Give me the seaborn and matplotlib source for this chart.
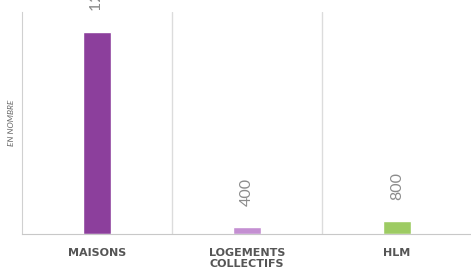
import matplotlib
matplotlib.use("Agg")
import matplotlib.pyplot as plt
import seaborn as sns
import pandas as pd

# donnees
categories = ["MAISONS", "LOGEMENTS\nCOLLECTIFS", "HLM"]
valeurs = [12000, 400, 800]
couleurs = ["#8C3F9C", "#C48FD2", "#9DCB63"]

df = pd.DataFrame({"type": categories, "nombre": valeurs})

sns.set_style("white")
plt.rcParams["font.family"] = ["Lato", "DejaVu Sans"]

fig = plt.figure(figsize=(4.71, 2.74), dpi=100)
ax = fig.add_axes([22 / 471, 40 / 274, 450 / 471, 222 / 274])

sns.barplot(data=df, x="type", y="nombre", hue="type", palette=couleurs,
            width=0.19, legend=False, ax=ax, saturation=1)

ax.set_xlim(-0.5, 2.5)
ax.set_ylim(0, 13190)

# separateurs verticaux
for xs in [0.5, 1.5, 2.5]:
    ax.axvline(xs, color="#dcdcdc", lw=1, zorder=0)

# etiquettes de valeur
for i, v in enumerate(valeurs):
    ax.annotate(f"{v:,}".replace(",", " "), (i, v), xytext=(0, 15),
                textcoords="offset points", rotation=90, ha="center",
                va="bottom", fontsize=11.5, color="#8c8c8c",
                annotation_clip=False, clip_on=False)

for s in ["top", "right"]:
    ax.spines[s].set_visible(False)
ax.spines["left"].set_color("#d0d0d0")
ax.spines["bottom"].set_color("#c8c8c8")

ax.set_yticks([])
ax.set_xlabel("")
ax.set_ylabel("EN NOMBRE", fontsize=6, style="italic", color="#666666", labelpad=5)
ax.tick_params(axis="x", length=0, pad=10)
for lab in ax.get_xticklabels():
    lab.set_fontfamily("DejaVu Sans")
    lab.set_fontsize(8)
    lab.set_fontweight("bold")
    lab.set_color("#555555")
    lab.set_linespacing(1.2)

fig.savefig("out.png", dpi=100)
